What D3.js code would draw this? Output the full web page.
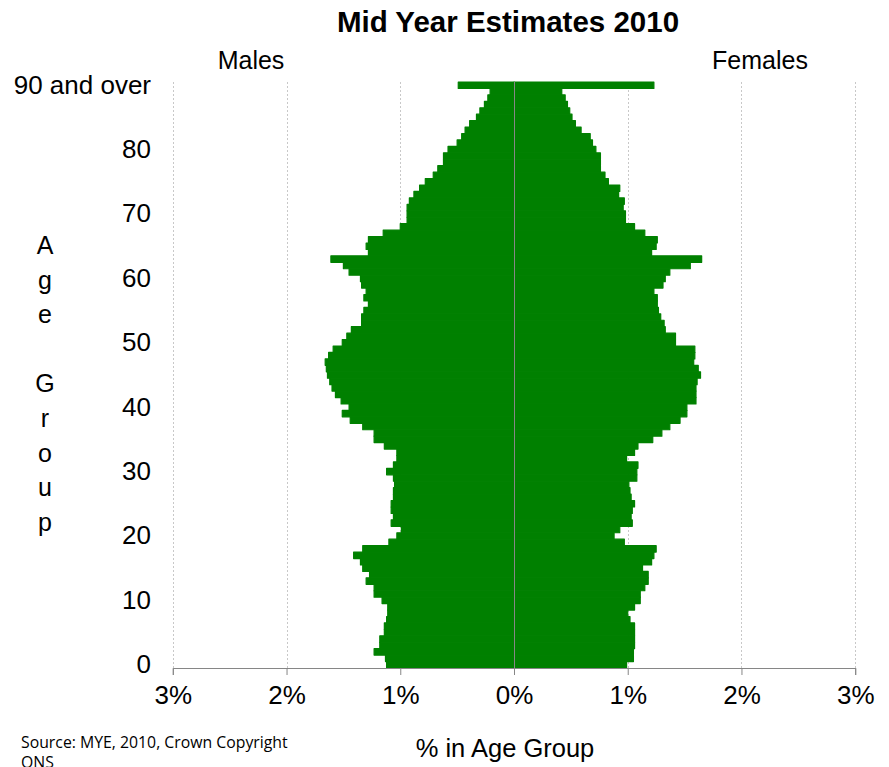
<!DOCTYPE html>
<html lang="en">
  <head>
    <meta charset="UTF-8" />
    <title>Mid Year Estimates 2010</title>
    <script src="https://d3js.org/d3.v7.min.js"></script>
    <style>
      body {
        margin: 0;
        padding: 0;
        background-color: #ffffff;
      }
      svg text {
        font-family: "Liberation Sans", Arial, sans-serif;
        fill: #000;
      }
    </style>
  </head>
  <body>
    <div id="chart"></div>

    <script>
      // -----------------------------
      // 1. Data (percent of population in each single year of age)
      // -----------------------------

      // age groups 0..89 and then "90 and over"
      const ages = d3.range(0, 90).map(String).concat(["90 and over"]);

      // males, age 0 upwards
      const males = [
        1.12, 1.13, 1.23, 1.18, 1.18, 1.14, 1.14, 1.12, 1.11, 1.11,
        1.16, 1.23, 1.23, 1.30, 1.27, 1.33, 1.35, 1.41, 1.33, 1.10,
        1.03, 0.99, 1.08, 1.06, 1.08, 1.08, 1.06, 1.06, 1.05, 1.06,
        1.12, 1.06, 1.03, 1.03, 1.14, 1.23, 1.23, 1.33, 1.44, 1.51,
        1.45, 1.52, 1.57, 1.60, 1.62, 1.64, 1.65, 1.66, 1.63, 1.59,
        1.51, 1.47, 1.43, 1.34, 1.34, 1.32, 1.28, 1.32, 1.30, 1.34,
        1.35, 1.45, 1.50, 1.61, 1.28, 1.30, 1.28, 1.15, 1.00, 0.94,
        0.94, 0.94, 0.92, 0.88, 0.83, 0.78, 0.71, 0.67, 0.62, 0.62,
        0.58, 0.50, 0.46, 0.43, 0.39, 0.33, 0.30, 0.26, 0.23, 0.21,
        0.49
      ];

      // females, age 0 upwards
      const females = [
        0.99, 1.05, 1.05, 1.06, 1.06, 1.06, 1.06, 1.02, 1.00, 1.06,
        1.11, 1.11, 1.15, 1.18, 1.18, 1.13, 1.21, 1.23, 1.25, 0.97,
        0.88, 0.93, 1.04, 1.03, 1.04, 1.06, 1.03, 1.02, 1.01, 1.08,
        1.08, 1.09, 0.99, 1.06, 1.09, 1.22, 1.30, 1.37, 1.46, 1.52,
        1.52, 1.60, 1.60, 1.60, 1.61, 1.64, 1.62, 1.58, 1.59, 1.59,
        1.42, 1.42, 1.33, 1.32, 1.29, 1.27, 1.26, 1.26, 1.23, 1.31,
        1.33, 1.37, 1.55, 1.65, 1.21, 1.25, 1.26, 1.15, 1.06, 0.98,
        0.98, 0.96, 0.97, 0.92, 0.93, 0.83, 0.80, 0.76, 0.76, 0.76,
        0.72, 0.69, 0.67, 0.59, 0.54, 0.51, 0.49, 0.47, 0.45, 0.42,
        1.23
      ];

      // labelled categories on the age axis
      const ageTicks = ["0", "10", "20", "30", "40", "50", "60", "70", "80", "90 and over"];

      // percent ticks (negative = males side)
      const pctTicks = [-3, -2, -1, 0, 1, 2, 3];

      const axisTitleLetters = ["A", "g", "e", "", "G", "r", "o", "u", "p"];

      // -----------------------------
      // 2. Layout and scales
      // -----------------------------
      const width = 889;
      const height = 767;
      const plot = { left: 172.8, right: 855.2, top: 82, bottom: 668 };
      const green = "#008000";
      const axisGrey = "#868686";

      const svg = d3
        .select("#chart")
        .append("svg")
        .attr("width", width)
        .attr("height", height);

      const x = d3.scaleLinear().domain([-3, 3]).range([plot.left, plot.right]);

      const y = d3
        .scaleBand()
        .domain(ages)
        .range([plot.bottom, plot.top])
        .padding(0);

      // -----------------------------
      // 3. Gridlines
      // -----------------------------
      svg
        .append("g")
        .selectAll("line")
        .data(pctTicks.filter((d) => d !== 0))
        .join("line")
        .attr("x1", (d) => Math.round(x(d)) + 0.5)
        .attr("x2", (d) => Math.round(x(d)) + 0.5)
        .attr("y1", plot.top)
        .attr("y2", plot.bottom)
        .attr("stroke", "#c8c8c8")
        .attr("stroke-width", 1)
        .attr("stroke-dasharray", "2,2");

      // -----------------------------
      // 4. Bars
      // -----------------------------
      const rows = ages.map((a, i) => ({ age: a, m: males[i], f: females[i] }));

      const bars = svg.append("g");

      bars
        .selectAll("rect.male")
        .data(rows)
        .join("rect")
        .attr("class", "male")
        .attr("x", (d) => x(-d.m))
        .attr("y", (d) => y(d.age))
        .attr("width", (d) => x(0) - x(-d.m))
        .attr("height", y.bandwidth())
        .attr("fill", green)
        .attr("stroke", green)
        .attr("stroke-width", 1.2)
        .attr("stroke-linejoin", "round");

      bars
        .selectAll("rect.female")
        .data(rows)
        .join("rect")
        .attr("class", "female")
        .attr("x", x(0))
        .attr("y", (d) => y(d.age))
        .attr("width", (d) => x(d.f) - x(0))
        .attr("height", y.bandwidth())
        .attr("fill", green)
        .attr("stroke", green)
        .attr("stroke-width", 1.2)
        .attr("stroke-linejoin", "round");

      // zero line (category axis)
      svg
        .append("line")
        .attr("x1", Math.round(x(0)) + 0.5)
        .attr("x2", Math.round(x(0)) + 0.5)
        .attr("y1", plot.top)
        .attr("y2", plot.bottom)
        .attr("stroke", axisGrey)
        .attr("stroke-width", 1);

      // -----------------------------
      // 5. Axes
      // -----------------------------
      const xAxis = d3
        .axisBottom(x)
        .tickValues(pctTicks)
        .tickSize(7)
        .tickPadding(11)
        .tickFormat((d) => Math.abs(d) + "%");

      const gx = svg
        .append("g")
        .attr("transform", `translate(0,${plot.bottom})`)
        .call(xAxis);
      gx.select(".domain").attr("stroke", axisGrey);
      gx.selectAll(".tick line").attr("stroke", axisGrey);
      gx.selectAll(".tick text")
        .attr("font-size", 26)
        .attr("fill", "#000")
        .style("font-family", '"Liberation Sans", Arial, sans-serif');

      const yAxis = d3
        .axisLeft(y)
        .tickValues(ageTicks)
        .tickSize(0)
        .tickPadding(0);

      const gy = svg
        .append("g")
        .attr("transform", `translate(151,0)`)
        .call(yAxis);
      gy.select(".domain").remove();
      gy.selectAll(".tick text")
        .attr("font-size", 26)
        .attr("fill", "#000")
        .style("font-family", '"Liberation Sans", Arial, sans-serif');

      // -----------------------------
      // 6. Titles and labels
      // -----------------------------
      svg
        .append("text")
        .attr("x", 508)
        .attr("y", 32)
        .attr("text-anchor", "middle")
        .attr("font-size", 29.5)
        .attr("font-weight", "bold")
        .text("Mid Year Estimates 2010");

      svg
        .append("text")
        .attr("x", 251)
        .attr("y", 69)
        .attr("text-anchor", "middle")
        .attr("font-size", 25)
        .text("Males");

      svg
        .append("text")
        .attr("x", 760)
        .attr("y", 69)
        .attr("text-anchor", "middle")
        .attr("font-size", 25)
        .text("Females");

      // stacked letters for the age axis title
      svg
        .append("g")
        .selectAll("text")
        .data(axisTitleLetters)
        .join("text")
        .attr("x", 45)
        .attr("y", (d, i) => 254 + i * 34.6)
        .attr("text-anchor", "middle")
        .attr("font-size", 25)
        .text((d) => d);

      svg
        .append("text")
        .attr("x", 505)
        .attr("y", 757)
        .attr("text-anchor", "middle")
        .attr("font-size", 25.5)
        .text("% in Age Group");

      svg
        .append("text")
        .attr("x", 21)
        .attr("y", 748)
        .attr("font-size", 15.8)
        .style("font-family", '"Open Sans", "Noto Sans", sans-serif')
        .text("Source: MYE, 2010, Crown Copyright");

      svg
        .append("text")
        .attr("x", 21)
        .attr("y", 768)
        .attr("font-size", 15.8)
        .style("font-family", '"Open Sans", "Noto Sans", sans-serif')
        .text("ONS");
    </script>
  </body>
</html>
